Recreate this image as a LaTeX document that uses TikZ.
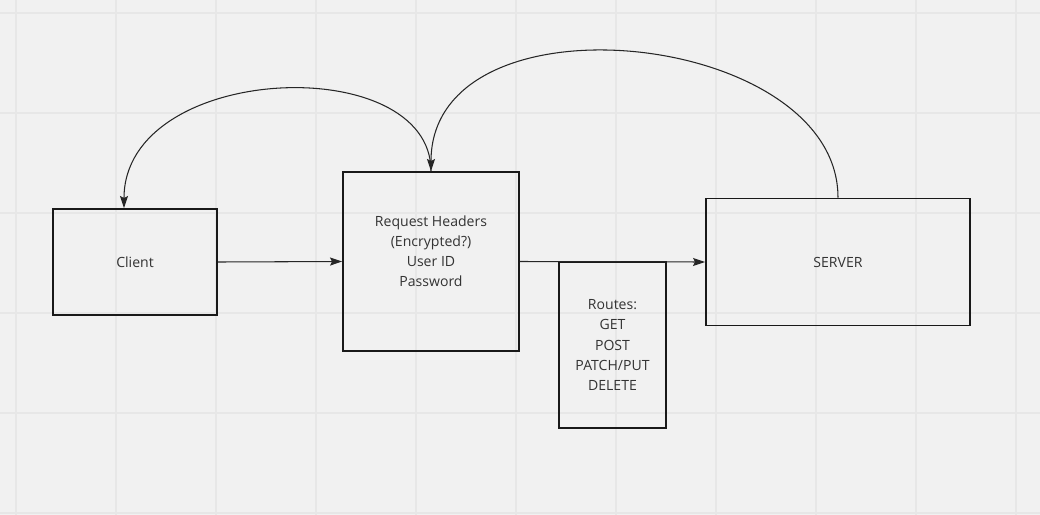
\documentclass[tikz,border=0pt]{standalone}
\usepackage{fontspec}
\setmainfont{Open Sans}
\usetikzlibrary{arrows.meta}
\definecolor{canvas}{HTML}{F1F1F1}
\definecolor{gridline}{HTML}{E7E7E7}
\definecolor{ink}{HTML}{333333}
\tikzset{
    box/.style={shape=rectangle, draw=black!90, line width=1.1pt, inner sep=0pt, align=center, text=ink, font=\fontsize{8}{11.4}\selectfont},
    link/.style={draw=black!85, line width=0.6pt, -{Stealth[length=2.4mm,width=1.6mm,inset=0.4mm]}}
}
\begin{document}
\begin{tikzpicture}
    \fill[canvas] (0,0) rectangle (20.8,-10.3);
    \useasboundingbox (0,0) rectangle (20.8,-10.3);
    \foreach \gx in {0.32,2.32,...,20.32}
        \draw[gridline, line width=1.1pt] (\gx,0) -- (\gx,-10.3);
    \foreach \gy in {0.26,2.26,...,10.26}
        \draw[gridline, line width=1.1pt] (0,-\gy) -- (20.8,-\gy);

    \node[box, minimum width=3.28cm, minimum height=2.12cm] (client) at (2.70,-5.24) {Client};
    \node[box, minimum width=3.52cm, minimum height=3.58cm] (req) at (8.62,-5.23) {Request Headers\\(Encrypted?)\\User ID\\Password\\ \mbox{}};
    \node[box, minimum width=2.14cm, minimum height=3.32cm] (routes) at (12.25,-6.90) {Routes:\\GET\\POST\\PATCH/PUT\\DELETE};
    \node[box, minimum width=5.28cm, minimum height=2.54cm] (server) at (16.76,-5.24) {SERVER};

    \draw[link] (client.east) -- (req.west);
    \draw[link] (req.east) -- (server.west);
    \draw[link] (req.north) .. controls (8.62,-1.00) and (2.48,-1.24) .. ([xshift=-2.2mm]client.north);
    \draw[link] (server.north) .. controls (16.76,-0.60) and (8.62,0.24) .. (req.north);
\end{tikzpicture}
\end{document}
